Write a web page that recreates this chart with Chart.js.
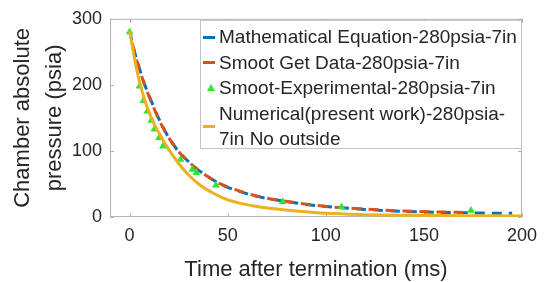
<!DOCTYPE html>
<html>
<head>
<meta charset="utf-8">
<script src="https://cdn.jsdelivr.net/npm/chart.js@4.4.1/dist/chart.umd.min.js"></script>
<style>
  body { margin: 0; background: #fff; }
  #wrap { position: relative; width: 545px; height: 282px; }
  #legend {
    position: absolute; left: 200px; top: 20px; width: 322px; height: 129px;
    border: 1px solid #c4c4c4; background: #fff; box-sizing: border-box;
    font-family: "Liberation Sans", Arial, sans-serif; font-size: 19px;
    color: #262626; line-height: 25.5px; padding-top: 3px;
  }
  .item { position: relative; padding-left: 18px; white-space: pre-line; }
  .sw { position: absolute; left: 2px; width: 12px; height: 3px; top: 50%; margin-top: -1px; }
  .tri { position: absolute; left: 6px; top: 50%; margin-top: -4px; width: 0; height: 0;
         border-left: 4px solid transparent; border-right: 4px solid transparent; border-bottom: 7px solid; }
</style>
</head>
<body>
<div id="wrap">
  <canvas id="c" width="545" height="282"></canvas>
  <div id="legend"></div>
</div>
<script>
// ---- data ----
const mathX = [0, 2.5, 5, 7.5, 10, 15, 20, 25, 30, 35, 40, 45, 50, 60, 70, 80, 90, 100, 120, 140, 160, 180, 195];
const mathY = [282, 250, 225, 202, 183, 148, 120, 99, 84, 71, 61, 52, 45, 35, 28, 23.5, 19, 16, 11.5, 8.5, 7, 6, 5.5];

const smootX = [0, 2.5, 5, 7.5, 10, 15, 20, 25, 30, 35, 40, 45, 50, 60, 70, 80, 90, 100, 120, 140, 160, 170];
const smootY = [281, 249, 224, 201, 182, 147, 120, 99, 84, 71, 61, 52, 45.5, 35.5, 28.5, 23.5, 19.5, 16, 12, 9, 7.5, 7];

const expX = [0, 5, 7, 9, 11, 12.6, 15, 17, 26, 32, 34, 44, 78, 108, 174];
const expY = [280, 198, 176, 160, 146, 133, 120, 107, 87, 72, 67, 48, 23, 15, 10];

const numX = [0, 2.5, 5, 7.5, 10, 12.5, 15, 17.5, 20, 25, 30, 36, 42, 49, 56, 65, 75, 85, 100, 120, 140, 170, 200];
const numY = [282, 240, 205, 179, 158, 141, 127, 114, 102, 81, 64, 48, 37, 27, 21, 16, 12, 9, 5.5, 3.5, 2.5, 2, 1.5];

const seriesLabels = [
  "Mathematical Equation-280psia-7in",
  "Smoot Get Data-280psia-7in",
  "Smoot-Experimental-280psia-7in",
  "Numerical(present work)-280psia-\n7in No outside"
];
const xTicks = [0, 50, 100, 150, 200];
const yTicks = [0, 100, 200, 300];

const FONT = "'Liberation Sans', Arial, sans-serif";
const TXT = "#262626";

function pts(xs, ys) { return xs.map((x, i) => ({x: x, y: ys[i]})); }

// axes box + inward tick marks (matlab look)
const boxPlugin = {
  id: "box",
  beforeDatasetsDraw(chart) {
    const ctx = chart.ctx, a = chart.chartArea;
    const sx = chart.scales.x, sy = chart.scales.y;
    ctx.save();
    ctx.strokeStyle = "#b4b4b4";
    ctx.lineWidth = 1;
    ctx.strokeRect(a.left + 0.5, a.top + 0.5, a.right - a.left - 1, a.bottom - a.top - 1);
    ctx.beginPath();
    sx.ticks.forEach(t => {
      const p = Math.round(sx.getPixelForValue(t.value)) + 0.5;
      ctx.moveTo(p, a.bottom); ctx.lineTo(p, a.bottom - 4);
      ctx.moveTo(p, a.top); ctx.lineTo(p, a.top + 4);
    });
    sy.ticks.forEach(t => {
      const p = Math.round(sy.getPixelForValue(t.value)) + 0.5;
      ctx.moveTo(a.left, p); ctx.lineTo(a.left + 4, p);
      ctx.moveTo(a.right, p); ctx.lineTo(a.right - 4, p);
    });
    ctx.stroke();
    ctx.restore();
  }
};

const chart = new Chart(document.getElementById("c"), {
  type: "scatter",
  data: {
    datasets: [
      {
        label: seriesLabels[0], data: pts(mathX, mathY), showLine: true,
        borderColor: "#0072BD", backgroundColor: "#0072BD", borderWidth: 3,
        borderDash: [10, 7], pointRadius: 0, cubicInterpolationMode: "monotone", order: 4
      },
      {
        label: seriesLabels[1], data: pts(smootX, smootY), showLine: true,
        borderColor: "#D95319", backgroundColor: "#D95319", borderWidth: 3,
        borderDash: [10, 7], borderDashOffset: 5, pointRadius: 0, cubicInterpolationMode: "monotone", order: 3
      },
      {
        label: seriesLabels[2], data: pts(expX, expY), showLine: false,
        pointStyle: "triangle", pointRadius: 4.5, borderWidth: 0,
        backgroundColor: "#2fe62f", borderColor: "#2fe62f", order: 2
      },
      {
        label: seriesLabels[3], data: pts(numX, numY), showLine: true,
        borderColor: "#EDB120", backgroundColor: "#EDB120", borderWidth: 3,
        pointRadius: 0, cubicInterpolationMode: "monotone", order: 1
      }
    ]
  },
  options: {
    responsive: false,
    animation: false,
    layout: { padding: { top: 15, right: 22, left: 0, bottom: 0 } },
    plugins: { legend: { display: false }, tooltip: { enabled: false } },
    scales: {
      x: {
        type: "linear", min: -10, max: 200,
        grid: { display: false, drawTicks: false }, border: { display: false },
        afterBuildTicks: s => { s.ticks = xTicks.map(v => ({value: v})); },
        afterFit: s => { s.height = 65; },
        ticks: { font: { family: FONT, size: 18 }, color: TXT, padding: 8, maxRotation: 0 },
        title: {
          display: true, text: "Time after termination (ms)", color: TXT,
          font: { family: FONT, size: 22, lineHeight: 1 }, padding: { top: 0, bottom: 1 }
        }
      },
      y: {
        min: 0, max: 300,
        grid: { display: false, drawTicks: false }, border: { display: false },
        afterBuildTicks: s => { s.ticks = yTicks.map(v => ({value: v})); },
        afterFit: s => { s.width = 110; },
        ticks: { font: { family: FONT, size: 18 }, color: TXT, padding: 8 },
        title: {
          display: true, text: ["Chamber absolute", "pressure (psia)"], color: TXT,
          font: { family: FONT, size: 22, lineHeight: 1.45 }, padding: { top: 7, bottom: 0 }
        }
      }
    }
  },
  plugins: [boxPlugin]
});

// html legend built from the chart's datasets
const leg = document.getElementById("legend");
chart.data.datasets.forEach(ds => {
  const row = document.createElement("div");
  row.className = "item";
  const mark = document.createElement("span");
  if (ds.showLine) {
    mark.className = "sw";
    mark.style.background = ds.borderColor;
  } else {
    mark.className = "tri";
    mark.style.borderBottomColor = ds.backgroundColor;
  }
  row.appendChild(mark);
  row.appendChild(document.createTextNode(ds.label));
  leg.appendChild(row);
});
</script>
</body>
</html>
